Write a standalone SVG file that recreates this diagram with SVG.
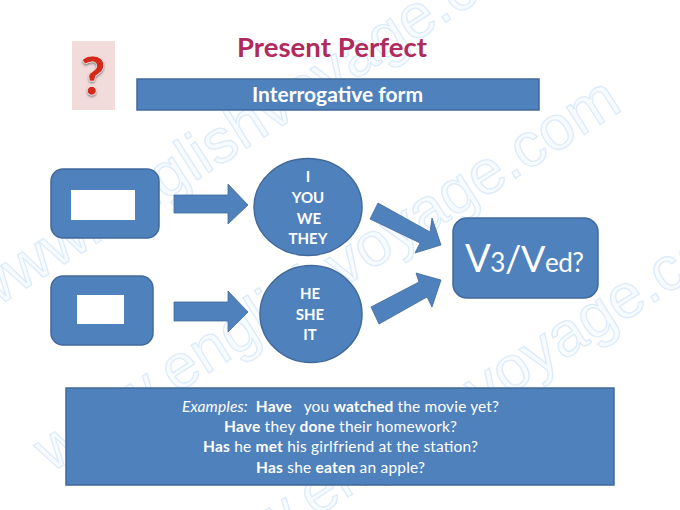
<svg xmlns="http://www.w3.org/2000/svg" width="680" height="510" viewBox="0 0 680 510">
<defs>
<style>
text{font-family:"Lato","Open Sans",sans-serif}
.wm{font-family:"Liberation Sans",Arial,sans-serif;font-size:62px;fill:#f8fbff;stroke:#dcebfb;stroke-width:1.3px}
.s{fill:#4f81bd;stroke:#41699b;stroke-width:1.5}
.a{fill:#4f81bd;stroke:#41699b;stroke-width:.8}
.w{fill:#fff}
.t{fill:#fff;font-size:15px;font-weight:700;text-anchor:middle}
.e{fill:#fff;font-size:15.500px;text-anchor:start}
.e tspan.b{font-weight:700}
</style>
<filter id="sh" x="-30%" y="-30%" width="160%" height="160%"><feDropShadow dx="0" dy="1.5" stdDeviation="1" flood-color="#555" flood-opacity=".7"/></filter>
</defs>
<rect width="680" height="510" fill="#fff"/>
<g id="watermark">
<text class="wm" transform="translate(-19 317) rotate(-32.400)">www.englishvoyage.com</text>
<text class="wm" transform="translate(51 473) rotate(-32.400)">www.englishvoyage.com</text>
<text class="wm" transform="translate(190 597) rotate(-32.400)">www.englishvoyage.com</text>
</g>
<g id="title"><text x="237" y="57" font-size="27.500" font-weight="700" fill="#b02a5b" textLength="190">Present Perfect</text></g>
<g id="question"><rect x="72" y="41" width="43" height="69" fill="#f2dcdb"/><text x="93" y="95" font-size="54" font-weight="900" fill="#d42a1e" stroke="#fff" stroke-width=".5" text-anchor="middle" filter="url(#sh)">?</text></g>
<g id="form"><rect class="s" x="137" y="79" width="402" height="31"/><text x="252" y="102" fill="#fff" font-size="21" font-weight="700" textLength="171">Interrogative form</text></g>
<g id="box1"><rect class="s" x="51" y="169" width="108" height="69" rx="12"/><rect class="w" x="71" y="190" width="64" height="30"/></g>
<g id="box2"><rect class="s" x="51" y="276" width="102" height="69" rx="12"/><rect class="w" x="77" y="295" width="47" height="29"/></g>
<g id="pronouns1"><ellipse class="s" cx="308" cy="207" rx="54" ry="48.500"/>
<text class="t" x="308" y="182">I</text><text class="t" x="308" y="203">YOU</text><text class="t" x="309" y="224">WE</text><text class="t" x="308" y="244">THEY</text></g>
<g id="pronouns2"><ellipse class="s" cx="311" cy="314" rx="51" ry="48.500"/>
<text class="t" x="310" y="299">HE</text><text class="t" x="310" y="320">SHE</text><text class="t" x="310" y="340">IT</text></g>
<g id="result"><rect class="s" x="453" y="218" width="145" height="80" rx="14"/>
<text x="465" y="272" fill="#fff" font-size="26" textLength="119"><tspan font-size="38">V</tspan>3<tspan font-size="36">/V</tspan>ed?</text></g>
<g id="connectors">
<path class="a" d="M174 195H228V184L248 205 228 224V213H174Z"/>
<path class="a" d="M174 302H228V291L248 312 228 332V321H174Z"/>
<path class="a" d="M378 203L430 232 432 218 441 245 415 253 420 243 370 219Z"/>
<path class="a" d="M371 307L419 282 416 273 441 280 432 307 427 297 379 324Z"/>
</g>
<g id="examples"><rect class="s" x="66" y="388" width="548" height="97"/>
<text class="e" x="182" y="412" textLength="317"><tspan font-style="italic">Examples:</tspan><tspan dx="8" class="b">Have</tspan><tspan dx="8"> you </tspan><tspan class="b">watched</tspan> the movie yet?</text>
<text class="e" x="224" y="432" textLength="233"><tspan class="b">Have</tspan> they <tspan class="b">done</tspan> their homework?</text>
<text class="e" x="203" y="452" textLength="275"><tspan class="b">Has</tspan> he <tspan class="b">met</tspan> his girlfriend at the station?</text>
<text class="e" x="256" y="473" textLength="169"><tspan class="b">Has</tspan> she <tspan class="b">eaten</tspan> an apple?</text></g>
</svg>
